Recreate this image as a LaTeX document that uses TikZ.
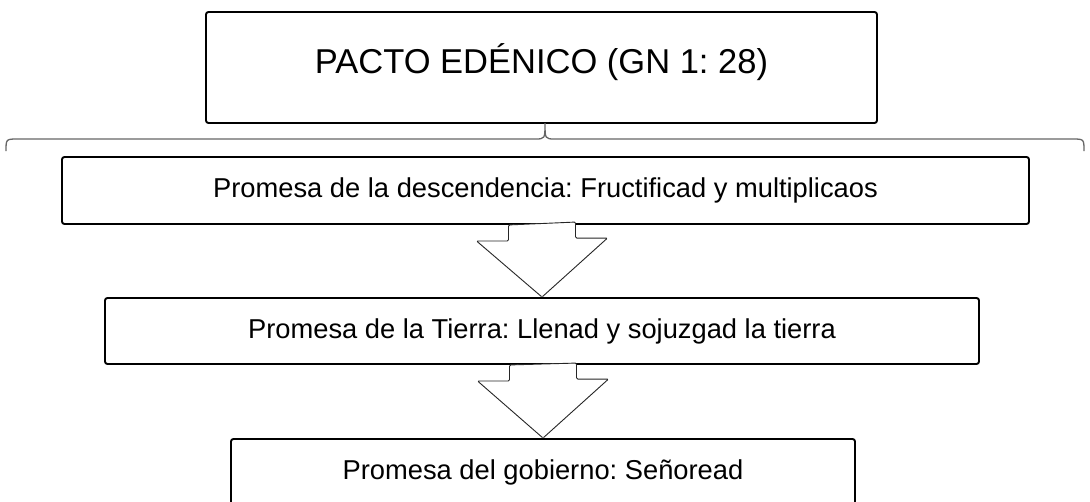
\documentclass[tikz,border=0pt]{standalone}
\usepackage{fontspec}
\setmainfont{Liberation Sans}
\usepackage{tikz}
\usetikzlibrary{positioning,calc}
\frenchspacing

\begin{document}
\begin{tikzpicture}[x=1pt, y=-1pt,
    titlebox/.style={draw, line width=1.9pt, rounded corners=2.5pt,
                     minimum width=671pt, minimum height=111pt,
                     text height=32pt, text depth=20pt,
                     font=\fontsize{34.5}{40}\selectfont},
    probox/.style={draw, line width=1.9pt, rounded corners=2.5pt,
                   minimum height=66pt, font=\fontsize{27.3}{32}\selectfont},
    blockarrow/.style={draw=black!85, line width=0.9pt, fill=white,
                       rounded corners=1.2pt},
    bracel/.style={draw=black!60, line width=1.3pt},
  ]
  \clip (0,0) rectangle (1090,501);

  %% Title
  \node[titlebox] (pacto) at (541.5,67.5) {PACTO EDÉNICO (GN 1: 28)};

  %% Brace
  \draw[bracel] (6,151) .. controls (6,139) .. (18,139) -- (535,139)
    .. controls (545,139) .. (545,123) .. controls (545,139) .. (555,139)
    -- (1072,139) .. controls (1084,139) .. (1084,151);

  %% Promises
  \node[probox, minimum width=967pt, minimum height=67pt] (desc) at (545.5,190.5)
    {Promesa de la descendencia: Fructificad y multiplicaos};
  \node[probox, minimum width=874pt] (tierra) at (542,331)
    {Promesa de la Tierra: Llenad y sojuzgad la tierra};
  \node[probox, minimum width=624pt] (gobierno) at (543,472)
    {Promesa del gobierno: Señoread};

  %% Arrow desc -> tierra
  \draw[blockarrow] ($(tierra.north |- desc.south)+(-33.5,0)$) -- ++(0,16)
    -- ++(-32,0) -- (tierra.north) -- ($(tierra.north)+(65.5,-59)$)
    -- ++(-32,0) -- ++(0,-16) -- cycle;

  %% Arrow tierra -> gobierno
  \draw[blockarrow] ($(gobierno.north |- tierra.south)+(-33.5,0)$) -- ++(0,16)
    -- ++(-32,0) -- (gobierno.north) -- ($(gobierno.north)+(65.5,-59)$)
    -- ++(-32,0) -- ++(0,-16) -- cycle;
\end{tikzpicture}
\end{document}
